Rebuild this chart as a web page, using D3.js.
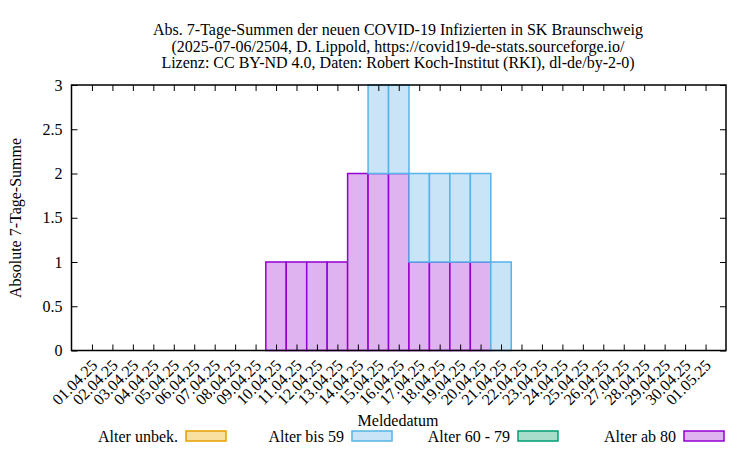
<!DOCTYPE html>
<html>
<head>
<meta charset="utf-8">
<script src="https://cdn.jsdelivr.net/npm/d3@7"></script>
<style>
  body { margin: 0; background: #fff; }
  svg text { font-family: "Liberation Serif", "Times New Roman", serif !important; fill: #000; }
</style>
</head>
<body>
<div id="chart"></div>
<script>
// data
const dates = ['01.04.25','02.04.25','03.04.25','04.04.25','05.04.25','06.04.25','07.04.25','08.04.25',
  '09.04.25','10.04.25','11.04.25','12.04.25','13.04.25','14.04.25','15.04.25','16.04.25','17.04.25',
  '18.04.25','19.04.25','20.04.25','21.04.25','22.04.25','23.04.25','24.04.25','25.04.25','26.04.25',
  '27.04.25','28.04.25','29.04.25','30.04.25','01.05.25']
const unbek  = [0,0,0,0,0,0,0,0,0,0,0,0,0,0,0,0,0,0,0,0,0,0,0,0,0,0,0,0,0,0,0]
const bis59  = [0,0,0,0,0,0,0,0,0,0,0,0,0,0,1,1,1,1,1,1,1,0,0,0,0,0,0,0,0,0,0]
const a60_79 = [0,0,0,0,0,0,0,0,0,0,0,0,0,0,0,0,0,0,0,0,0,0,0,0,0,0,0,0,0,0,0]
const ab80   = [0,0,0,0,0,0,0,0,0,1,1,1,1,2,2,2,1,1,1,1,0,0,0,0,0,0,0,0,0,0,0]
const yTicks = [0, 0.5, 1, 1.5, 2, 2.5, 3]

const series = [
  { name: 'Alter ab 80', values: ab80, fill: '#dfb2f0', stroke: '#9400d3' },
  { name: 'Alter 60 - 79', values: a60_79, fill: '#a8dccb', stroke: '#009e73' },
  { name: 'Alter bis 59', values: bis59, fill: '#c8e4f6', stroke: '#56b4e9' },
  { name: 'Alter unbek.', values: unbek, fill: '#f9dfa0', stroke: '#e69f00' }
]

const W = 750, H = 450
const m = { left: 71.5, right: 24, top: 85, bottom: 99.5 }
const svg = d3.select('#chart').append('svg').attr('width', W).attr('height', H)

const x = d3.scaleLinear().domain([-1, dates.length]).range([m.left, W - m.right])
const y = d3.scaleLinear().domain([0, 3]).range([H - m.bottom, m.top])
const bw = x(1) - x(0)

// stacked bars
const stackData = dates.map((d, i) => {
  const o = { i }
  series.forEach(s => { o[s.name] = s.values[i] })
  return o
})
const stacked = d3.stack().keys(series.map(s => s.name))(stackData)
stacked.forEach((layer, k) => {
  const s = series[k]
  svg.append('g').selectAll('rect')
    .data(layer.filter(d => d[1] - d[0] > 0))
    .join('rect')
    .attr('x', d => x(d.data.i) - bw / 2)
    .attr('width', bw)
    .attr('y', d => y(d[1]))
    .attr('height', d => y(d[0]) - y(d[1]))
    .attr('fill', s.fill)
    .attr('stroke', s.stroke)
    .attr('stroke-width', 1.5)
})

// axes
const tl = 6
const xb = svg.append('g').attr('transform', `translate(0,${H - m.bottom})`)
  .call(d3.axisBottom(x).tickValues(d3.range(dates.length)).tickFormat(i => dates[i]).tickSizeInner(-tl).tickSizeOuter(0))
xb.selectAll('text')
  .attr('font-size', 16)
  .attr('text-anchor', 'end')
  .attr('dy', '0.35em')
  .attr('transform', 'translate(2,12) rotate(-45)')
  .attr('y', 0).attr('x', 0)
svg.append('g').attr('transform', `translate(0,${m.top})`)
  .call(d3.axisTop(x).tickValues(d3.range(dates.length)).tickFormat('').tickSizeInner(-tl).tickSizeOuter(0))
svg.append('g').attr('transform', `translate(${m.left},0)`)
  .call(d3.axisLeft(y).tickValues(yTicks).tickFormat(d3.format('')).tickSizeInner(-tl).tickSizeOuter(0).tickPadding(9))
  .selectAll('text').attr('font-size', 16)
svg.append('g').attr('transform', `translate(${W - m.right},0)`)
  .call(d3.axisRight(y).tickValues(yTicks).tickFormat('').tickSizeInner(-tl).tickSizeOuter(0))
svg.selectAll('.domain').remove()
svg.selectAll('.tick line').attr('stroke', '#000')
svg.append('rect')
  .attr('x', m.left).attr('y', m.top)
  .attr('width', W - m.left - m.right).attr('height', H - m.top - m.bottom)
  .attr('fill', 'none').attr('stroke', '#000').attr('stroke-width', 1.5)

// titles
const titles = ['Abs. 7-Tage-Summen der neuen COVID-19 Infizierten in SK Braunschweig',
  '(2025-07-06/2504, D. Lippold, https://covid19-de-stats.sourceforge.io/',
  'Lizenz: CC BY-ND 4.0, Daten: Robert Koch-Institut (RKI), dl-de/by-2-0)']
svg.selectAll('.title').data(titles).join('text')
  .attr('x', 398).attr('y', (d, i) => 35 + i * 16.5)
  .attr('text-anchor', 'middle').attr('font-size', 16).text(d => d)

svg.append('text').attr('transform', 'translate(21,218) rotate(-90)')
  .attr('text-anchor', 'middle').attr('font-size', 16).text('Absolute 7-Tage-Summe')
svg.append('text').attr('x', 398).attr('y', 426)
  .attr('text-anchor', 'middle').attr('font-size', 16).text('Meldedatum')

// legend
const legend = [series[3], series[2], series[1], series[0]]
const boxX = [186, 352, 518, 684]
legend.forEach((s, i) => {
  svg.append('rect').attr('x', boxX[i]).attr('y', 431).attr('width', 40).attr('height', 10)
    .attr('fill', s.fill).attr('stroke', s.stroke).attr('stroke-width', 1.5)
  svg.append('text').attr('x', boxX[i] - 8).attr('y', 442)
    .attr('text-anchor', 'end').attr('font-size', 16).text(s.name)
})
</script>
</body>
</html>
